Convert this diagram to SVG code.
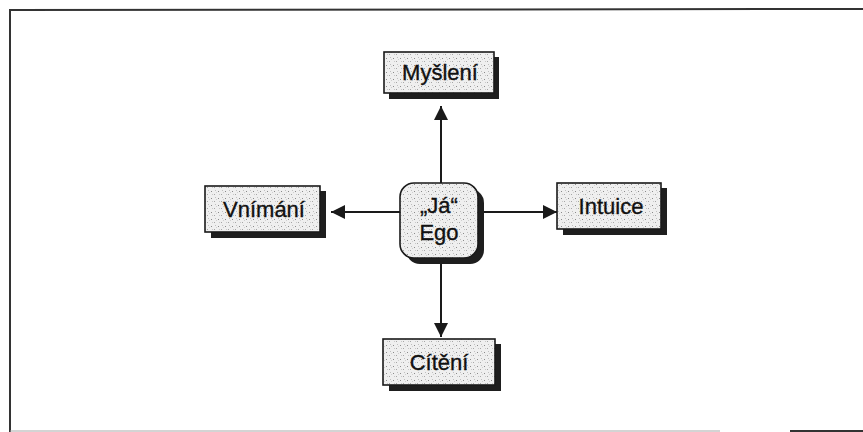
<svg xmlns="http://www.w3.org/2000/svg" width="863" height="432" viewBox="0 0 863 432">
  <defs>
    <!-- stippled light fill used inside every box -->
    <pattern id="stipple" width="7" height="7" patternUnits="userSpaceOnUse">
      <rect width="7" height="7" fill="#efefef"/>
      <rect x="1" y="2" width="1" height="1" fill="#8a8a8a"/>
      <rect x="4" y="5" width="1" height="1" fill="#a5a5a5"/>
      <rect x="5" y="1" width="1" height="1" fill="#c0c0c0"/>
      <rect x="2" y="5" width="1" height="1" fill="#c8c8c8"/>
      <rect x="6" y="3" width="1" height="1" fill="#d0d0d0"/>
    </pattern>
    <marker id="arrow" viewBox="0 0 14 14" refX="14" refY="7" markerWidth="14" markerHeight="14" markerUnits="userSpaceOnUse" orient="auto">
      <path d="M0,0 L14,7 L0,14 Z" fill="#1a1a1a"/>
    </marker>
  </defs>
  <style>
    .shadow { fill: #1e1e1e; }
    .box { fill: url(#stipple); stroke: #1a1a1a; stroke-width: 1.6; }
    .label { font-family: "Liberation Sans", Arial, sans-serif; font-size: 22px; fill: #111; stroke: #111; stroke-width: 0.35; text-anchor: middle; }
    .conn { stroke: #1a1a1a; stroke-width: 2; fill: none; marker-end: url(#arrow); }
    .frame { stroke: #333; stroke-width: 2; fill: none; }
  </style>

  <rect width="863" height="432" fill="#fff"/>

  <!-- outer frame -->
  <path class="frame" d="M10,432 L10,10 L863,9"/>
  <path d="M10,431 L720,431" stroke="#aaa" stroke-width="1.2"/>
  <path d="M790,431 L863,431" stroke="#333" stroke-width="2"/>

  <g id="connectors">
    <line class="conn" x1="441" y1="183" x2="441" y2="106"/>
    <line class="conn" x1="441" y1="258" x2="441" y2="337"/>
    <line class="conn" x1="400" y1="212" x2="331" y2="212"/>
    <line class="conn" x1="478" y1="212" x2="557" y2="212"/>
  </g>

  <g id="ego">
    <rect class="shadow" x="406" y="189" width="78" height="75" rx="14"/>
    <rect class="box" x="400" y="183" width="78" height="75" rx="14"/>
    <text class="label" x="439" y="213">„Já“</text>
    <text class="label" x="439" y="240">Ego</text>
  </g>

  <g id="mysleni">
    <rect class="shadow" x="389" y="57" width="110" height="42"/>
    <rect class="box" x="384" y="52" width="110" height="41"/>
    <text class="label" x="440" y="80">Myšlení</text>
  </g>

  <g id="vnimani">
    <rect class="shadow" x="211" y="191" width="115" height="47"/>
    <rect class="box" x="205" y="186" width="115" height="46"/>
    <text class="label" x="264" y="217">Vnímání</text>
  </g>

  <g id="intuice">
    <rect class="shadow" x="563" y="188" width="104" height="47"/>
    <rect class="box" x="557" y="183" width="104" height="46"/>
    <text class="label" x="611" y="214">Intuice</text>
  </g>

  <g id="citeni">
    <rect class="shadow" x="389" y="344" width="112" height="47"/>
    <rect class="box" x="383" y="339" width="112" height="46"/>
    <text class="label" x="439" y="370">Cítění</text>
  </g>
</svg>
